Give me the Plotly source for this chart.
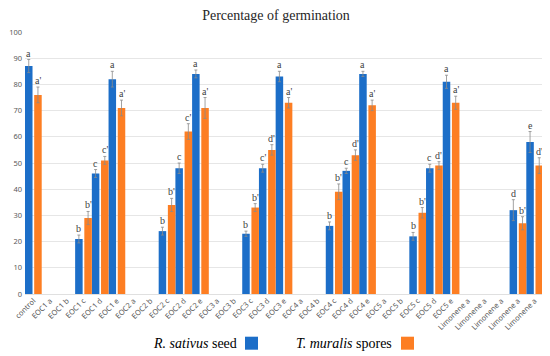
import plotly.graph_objects as go

labels = ["control",
          "EOC1 a", "EOC1 b", "EOC1 c", "EOC1 d", "EOC1 e",
          "EOC2 a", "EOC2 b", "EOC2 c", "EOC2 d", "EOC2 e",
          "EOC3 a", "EOC3 b", "EOC3 c", "EOC3 d", "EOC3 e",
          "EOC4 a", "EOC4 b", "EOC4 c", "EOC4 d", "EOC4 e",
          "EOC5 a", "EOC5 b", "EOC5 c", "EOC5 d", "EOC5 e",
          "Limonene a", "Limonene a", "Limonene a", "Limonene a", "Limonene a"]

sativus = [87,
           None, None, 21, 46, 82,
           None, None, 24, 48, 84,
           None, None, 23, 48, 83,
           None, None, 26, 47, 84,
           None, None, 22, 48, 81,
           None, None, None, 32, 58]
sativus_err = [2.5,
               0, 0, 1.5, 1.5, 3,
               0, 0, 1.5, 2, 1.5,
               0, 0, 1, 1.5, 2,
               0, 0, 1.5, 1, 1,
               0, 0, 1.5, 1.5, 2.5,
               0, 0, 0, 4, 4]
sativus_let = ["a",
               "", "", "b", "c", "a",
               "", "", "b", "c", "a",
               "", "", "b", "c'", "a",
               "", "", "b", "c", "a",
               "", "", "b", "c", "a",
               "", "", "", "d", "e"]

muralis = [76,
           None, None, 29, 51, 71,
           None, None, 34, 62, 71,
           None, None, 33, 55, 73,
           None, None, 39, 53, 72,
           None, None, 31, 49, 73,
           None, None, None, 27, 49]
muralis_err = [3,
               0, 0, 2.5, 1.5, 3,
               0, 0, 2.5, 3, 4,
               0, 0, 1.5, 2, 2,
               0, 0, 3, 2, 2,
               0, 0, 2, 1.5, 2.5,
               0, 0, 0, 2.5, 3]
muralis_let = ["a'",
               "", "", "b'", "c'", "a'",
               "", "", "b'", "c'", "a'",
               "", "", "b'", "d'", "a'",
               "", "", "b'", "d'", "a'",
               "", "", "b'", "d'", "a'",
               "", "", "", "b'", "d'"]

idx = list(range(len(labels)))
BLUE = "#1c6ec8"
ORANGE = "#fd7e23"
W = 0.45
OFF_B = -0.5
OFF_O = 0.05

fig = go.Figure()
fig.add_trace(go.Bar(x=idx, y=sativus, width=W, offset=OFF_B, marker_color=BLUE,
                     marker_line_width=0, name="R. sativus seed",
                     error_y=dict(type="data", array=sativus_err, color="#8a8a8a",
                                  thickness=0.8, width=1.5)))
fig.add_trace(go.Bar(x=idx, y=muralis, width=W, offset=OFF_O, marker_color=ORANGE,
                     marker_line_width=0, name="T. muralis spores",
                     error_y=dict(type="data", array=muralis_err, color="#8a8a8a",
                                  thickness=0.8, width=1.5)))

ann = []
for i in idx:
    if sativus[i] is not None:
        ann.append(dict(x=i + OFF_B + W / 2, y=sativus[i] + sativus_err[i], text=sativus_let[i],
                        showarrow=False, yanchor="bottom", yshift=-1,
                        font=dict(family="Liberation Serif", size=10, color="#404040")))
    if muralis[i] is not None:
        ann.append(dict(x=i + OFF_O + W / 2, y=muralis[i] + muralis_err[i], text=muralis_let[i],
                        showarrow=False, yanchor="bottom", yshift=-1,
                        font=dict(family="Liberation Serif", size=10, color="#404040")))

# page offset (browser body margin) compensation
PAD = 8
# legend-like texts and swatches (text before swatch, as in the reference), page pixel coords
L, PW, B, PH = 25, 518, 294.3, 262
def px(x):
    return (x - L) / PW
def py(y):
    return (B - y) / PH

ann.append(dict(xref="paper", yref="paper", x=px(239), y=py(344), xanchor="right", yanchor="middle",
                text="<i>R. sativus</i> seed", showarrow=False,
                font=dict(family="Liberation Serif", size=14, color="#000000")))
ann.append(dict(xref="paper", yref="paper", x=px(394), y=py(344), xanchor="right", yanchor="middle",
                text="<i>T. muralis</i> spores", showarrow=False,
                font=dict(family="Liberation Serif", size=14, color="#000000")))

shapes = [
    dict(type="rect", xref="paper", yref="paper", x0=px(245), x1=px(258), y0=py(350), y1=py(337),
         fillcolor=BLUE, line_width=0),
    dict(type="rect", xref="paper", yref="paper", x0=px(401), x1=px(414), y0=py(350), y1=py(337),
         fillcolor=ORANGE, line_width=0),
]

FW, FH = 550 - PAD, 356 - PAD
fig.update_layout(
    width=FW, height=FH,
    margin=dict(l=L - PAD, r=FW - (L - PAD) - PW, t=B - PH - PAD, b=FH - (B - PAD), autoexpand=False),
    paper_bgcolor="white", plot_bgcolor="white",
    showlegend=False,
    title=dict(text="Percentage of germination", x=(276 - PAD) / FW, xref="container",
               y=1 - (15 - PAD) / FH, yref="container", xanchor="center", yanchor="middle",
               font=dict(family="Liberation Serif", size=14, color="#262626")),
    annotations=ann, shapes=shapes,
)
fig.update_xaxes(range=[-0.5, len(labels) - 0.5], tickmode="array", tickvals=idx, ticktext=labels,
                 tickangle=-45, tickfont=dict(family="Noto Sans", size=7.5, color="#595959"),
                 showgrid=False, zeroline=False, showline=False, ticks="", automargin=False)
fig.update_yaxes(range=[0, 100], dtick=10, tickfont=dict(family="Noto Sans", size=7.5, color="#595959"),
                 showgrid=True, gridcolor="#e6e6e6", gridwidth=1, zeroline=True,
                 zerolinecolor="#e0e0e0", zerolinewidth=1, showline=False, ticks="",
                 ticklabelstandoff=2, automargin=False)

fig.write_html("out.html")
